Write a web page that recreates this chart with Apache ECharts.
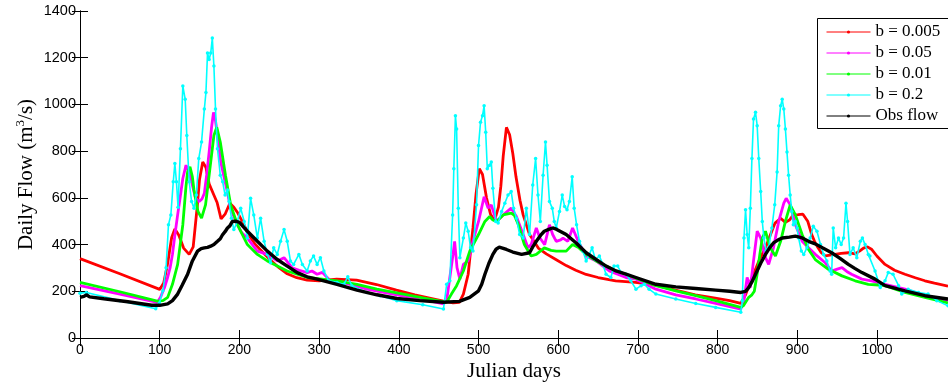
<!DOCTYPE html>
<html>
<head>
<meta charset="utf-8">
<script src="https://cdn.jsdelivr.net/npm/echarts@6/dist/echarts.min.js"></script>
<style>
html,body{margin:0;padding:0;background:#fff;}
#chart{width:948px;height:387px;}
</style>
</head>
<body>
<div id="chart"></div>
<script>
// ---- data: [Julian day, daily flow m3/s] ----
const seriesNames = ['b = 0.005', 'b = 0.05', 'b = 0.01', 'b = 0.2', 'Obs flow'];

const flowB005 = [[0,340],[50,275],[100,208],[105,235],[110,320],[115,430],[119,467],[124,440],[130,385],[137,358],[142,390],[147,560],[150,680],[154,754],[158,730],[162,660],[167,620],[172,580],[177,510],[182,530],[188,577],[193,560],[198,535],[205,490],[212,440],[220,400],[230,365],[240,330],[250,300],[260,275],[272,258],[285,248],[300,245],[322,252],[347,248],[372,229],[397,205],[420,185],[440,170],[456,158],[468,150],[476,153],[481,188],[487,273],[493,471],[497,620],[501,725],[505,700],[510,600],[515,530],[520,503],[525,560],[528,650],[531,780],[535,902],[539,870],[543,790],[547,690],[552,590],[556,527],[564,443],[575,385],[585,360],[597,336],[610,310],[622,290],[635,272],[650,259],[672,245],[697,238],[722,226],[747,205],[772,185],[797,171],[815,160],[829,148],[835,185],[841,240],[847,290],[853,340],[860,386],[866,440],[872,492],[879,513],[885,495],[890,505],[895,527],[901,528],[907,530],[913,500],[918,443],[922,410],[926,386],[930,365],[935,352],[941,355],[947,358],[955,362],[964,365],[972,360],[978,372],[983,385],[988,390],[993,380],[1000,350],[1010,315],[1022,290],[1035,273],[1048,258],[1060,245],[1072,235],[1089,222]];

const flowB05 = [[0,224],[50,188],[97,153],[101,174],[106,216],[110,260],[113,300],[116,358],[119,440],[122.5,527],[126,610],[129,683],[133,740],[136,715],[139,683],[142,640],[145,598],[149.5,584],[153,595],[156,619],[159,700],[162,796],[165,900],[167.5,966],[170,930],[172,880],[176.6,754],[180,700],[183,655],[189,556],[193,520],[197.5,485],[203,450],[210,428],[222.5,372],[235,358],[247.5,330],[256,344],[266,301],[275,290],[285,280],[291,287],[297.5,273],[304,281],[314,245],[335,233],[360,209],[397.5,185],[430,165],[456,146],[460,160],[464,259],[468,358],[470,414],[473,301],[476.6,252],[481,315],[487,330],[493,414],[500,499],[507,605],[512,556],[516,570],[522.5,499],[531,527],[541,556],[547.5,520],[556,443],[562,386],[566,400],[572.5,471],[577,428],[583,400],[589,485],[593,443],[597.5,414],[603,420],[606,428],[612,414],[618,471],[625,414],[635,351],[647.5,330],[664,287],[685,259],[697.5,252],[722.5,209],[747.5,185],[772.5,167],[797.5,148],[829,124],[833,160],[837,259],[841,216],[845,330],[849.6,457],[854,428],[860,344],[864,315],[870,386],[876.6,499],[883,577],[886,598],[891,570],[897.5,485],[906,414],[914,386],[922.5,358],[935,322],[943,287],[950,295],[956,301],[962,285],[968,273],[981,252],[993,245],[1010,230],[1035,209],[1060,181],[1089,160]];

const flowB01 = [[0,238],[50,198],[97,158],[104,160],[110,174],[116,230],[122.5,315],[129,485],[133,650],[135,711],[138,733],[141,690],[143,634],[148,542],[152.5,513],[157.5,570],[160,640],[163,725],[168,867],[171.6,902],[176,839],[182.5,697],[189,570],[197.5,485],[210,400],[222.5,358],[235,330],[260,287],[285,259],[322.5,245],[347.5,230],[372.5,209],[397.5,193],[430,172],[460,153],[466,188],[472.5,224],[481,287],[489,372],[500,443],[508,499],[514,520],[518,505],[522.5,499],[531,527],[541,535],[545,525],[550,485],[557.5,400],[566,351],[572.5,358],[582.5,386],[591,375],[597.5,372],[610,372],[618,400],[626,386],[635,358],[647.5,330],[660,308],[672.5,287],[685,273],[697.5,256],[722.5,224],[747.5,202],[772.5,181],[797.5,160],[829,131],[832.5,139],[839,174],[843,185],[846,200],[849.5,273],[853,360],[856,428],[860,457],[866,386],[872.5,351],[879,414],[885,499],[891,570],[897.5,527],[906,443],[914,379],[922.5,336],[939,294],[956,266],[972.5,245],[989,230],[997.5,228],[1010,224],[1035,195],[1060,174],[1089,150]];

const flowB2 = [[0,192],[8,195],[50,160],[95,125],[99.6,150],[104,202],[108,301],[111,485],[114,527],[117,669],[119,747],[121,669],[123,560],[126,810],[129,1079],[132,1022],[134,867],[137,669],[140,584],[143,556],[146,612],[149,768],[152.5,839],[156,980],[158,1051],[160,1220],[162,1192],[164,1220],[166,1284],[168,1164],[170,980],[172.5,810],[176,697],[179,669],[182,612],[185,634],[187,584],[190,513],[193,464],[197.5,499],[201.6,556],[206,499],[210,428],[214,598],[218,527],[222.5,428],[226.6,513],[231,414],[235,358],[239,322],[243,386],[247.5,358],[251.6,414],[256,464],[260,414],[264,330],[268,315],[274.6,358],[279,315],[285,287],[289,330],[293,351],[297.5,315],[301.6,344],[306,287],[312,245],[322.5,238],[331,230],[336,262],[341,224],[360,195],[376.6,181],[397.5,160],[430,142],[456,124],[460,230],[464,245],[467.5,527],[469,725],[471,952],[472.5,895],[474.6,556],[476.6,344],[481,428],[484,492],[487,457],[490,386],[493,372],[497.5,570],[500,824],[502.5,924],[505,952],[507,994],[509,881],[511,725],[514,740],[516,754],[518,641],[521.6,499],[524.6,492],[529,542],[533,577],[537,612],[541,627],[544,556],[547.5,513],[551.6,443],[556,428],[560,556],[564,443],[568,655],[571.6,768],[574.6,612],[577.5,499],[581,697],[584,839],[586,740],[589,584],[592.5,556],[595,499],[597.5,471],[601.6,542],[605,612],[608,563],[611,549],[614,584],[617.5,690],[620,556],[623,485],[626.6,414],[631,372],[635,330],[639,358],[642.5,386],[646.6,336],[651.6,351],[656,315],[660,273],[666,259],[670,308],[674.6,308],[679,280],[685,273],[691,245],[697.5,209],[704,224],[708,230],[714,209],[722.5,188],[747.5,167],[772.5,148],[797.5,131],[829,110],[831,160],[833,428],[835,549],[837,443],[839,386],[841,556],[843,768],[845,938],[847.5,966],[849.6,909],[851.6,768],[854,627],[856,499],[858,428],[861,372],[864,386],[868,471],[871.6,570],[874.6,711],[876.6,909],[879,994],[881,1022],[883,980],[885,895],[887,796],[889,697],[891,612],[893,542],[895,485],[897.5,499],[899.6,471],[901.6,428],[905,372],[908,358],[912,386],[916,428],[920,478],[924.6,457],[929,400],[933,358],[937,330],[941,287],[943,273],[945,471],[948,386],[951.6,428],[955,400],[958,428],[961,577],[963,499],[966,358],[970,386],[974.6,344],[979,414],[981.6,428],[985,400],[989,358],[991,351],[997.5,287],[1004,216],[1010,245],[1014,280],[1020,273],[1027,224],[1031,188],[1039,209],[1052,195],[1064,188],[1075,160],[1089,138]];

const flowObs = [[0,174],[5,178],[8,185],[12,176],[30,168],[60,155],[90,140],[100,140],[110,146],[116,160],[122.5,188],[128,225],[135,273],[141,330],[147.5,372],[152,383],[156,386],[160,388],[164,393],[168,400],[172.5,414],[176,425],[179,443],[182,455],[185,471],[188,480],[191,499],[195,500],[200,495],[210,457],[222.5,414],[235,372],[247.5,336],[260,308],[272.5,280],[285,262],[297.5,252],[322.5,230],[347.5,205],[372.5,185],[397.5,169],[426,160],[456,153],[476,157],[489,174],[500,202],[504,230],[508,273],[513,320],[518,358],[522,380],[526,389],[530,385],[535,379],[543,368],[554,358],[564,365],[568,390],[572.5,414],[578,440],[582.5,457],[588,465],[593,471],[597.5,466],[610,443],[622.5,407],[635,365],[647.5,336],[660,308],[672.5,287],[685,273],[697.5,259],[722.5,230],[747.5,219],[772.5,212],[797.5,205],[815,200],[829,195],[835,200],[839,216],[843,240],[847.5,273],[854,320],[860,358],[865,385],[870,407],[876,420],[881,428],[890,432],[897.5,436],[900,443],[905,430],[914,414],[922.5,403],[932,385],[943,365],[954,340],[964,315],[972,298],[981,280],[997.5,252],[1010,224],[1035,202],[1060,181],[1089,167]];

const seriesColors = ['#ff0000', '#ff00ff', '#00ff00', '#00ffff', '#000000'];
const xTickStep = 100, yTickStep = 200;

const chart = echarts.init(document.getElementById('chart'), null, {renderer: 'canvas'});
const allData = [flowB005, flowB05, flowB01, flowB2, flowObs];
const widths = [2.8, 2.8, 2.8, 1.6, 3.4];
const showSym = [false, false, false, true, false];

const axisCommon = {
  type: 'value',
  axisLine: {show: true, lineStyle: {color: '#000', width: 1}},
  axisTick: {show: true, inside: true, length: 8, lineStyle: {color: '#000', width: 1}},
  splitLine: {show: false}
};
const sans = 'Liberation Sans, Arial, sans-serif';
const serif = 'Liberation Serif, Times New Roman, serif';
const plain = v => String(v);

chart.setOption({
  animation: false,
  backgroundColor: '#fff',
  grid: {left: 80, top: 11, bottom: 46, right: -3, containLabel: false},
  graphic: [{
    type: 'rect', z: 50, silent: true,
    shape: {x: 817.5, y: 18.5, width: 160, height: 110},
    style: {fill: '#fff', stroke: '#000', lineWidth: 1}
  }],
  legend: {
    orient: 'vertical', left: 817, top: 18, z: 60,
    data: seriesNames,
    itemWidth: 44, itemHeight: 4, itemGap: 1,
    padding: [4, 2, 3, 9],
    lineStyle: {width: 1},
    textStyle: {fontFamily: serif, fontSize: 17, color: '#000', lineHeight: 20}
  },
  xAxis: [
    Object.assign({}, axisCommon, {
      position: 'bottom', min: 0, max: 1089, interval: xTickStep,
      axisLabel: {color: '#000', fontFamily: sans, fontSize: 14, margin: 5, showMaxLabel: false, formatter: plain},
      name: 'Julian days', nameLocation: 'middle', nameGap: 23, nameMoveOverlap: false,
      nameTextStyle: {fontFamily: serif, fontSize: 21, color: '#000'}
    }),
    Object.assign({}, axisCommon, {
      position: 'top', min: 0, max: 1089, interval: xTickStep,
      axisLabel: {show: false}
    })
  ],
  yAxis: [
    Object.assign({}, axisCommon, {
      position: 'left', min: 0, max: 1400, interval: yTickStep,
      axisLabel: {color: '#000', fontFamily: sans, fontSize: 14.5, margin: 4, formatter: plain},
      name: 'Daily Flow (m{sup|3}/s)', nameLocation: 'middle', nameGap: 42, nameMoveOverlap: false,
      nameTextStyle: {fontFamily: serif, fontSize: 21, color: '#000', lineHeight: 24,
        rich: {sup: {fontFamily: serif, fontSize: 13, lineHeight: 24, verticalAlign: 'top', color: '#000'}}}
    }),
    Object.assign({}, axisCommon, {
      position: 'right', min: 0, max: 1400, interval: yTickStep,
      axisLabel: {show: false}
    })
  ],
  series: seriesNames.map((n, i) => ({
    name: n, type: 'line', xAxisIndex: 0, yAxisIndex: 0,
    data: allData[i],
    symbol: 'circle', symbolSize: 3.5, showSymbol: showSym[i],
    lineStyle: {color: seriesColors[i], width: widths[i]},
    itemStyle: {color: seriesColors[i]},
    z: 2 + i
  }))
});
</script>
</body>
</html>
